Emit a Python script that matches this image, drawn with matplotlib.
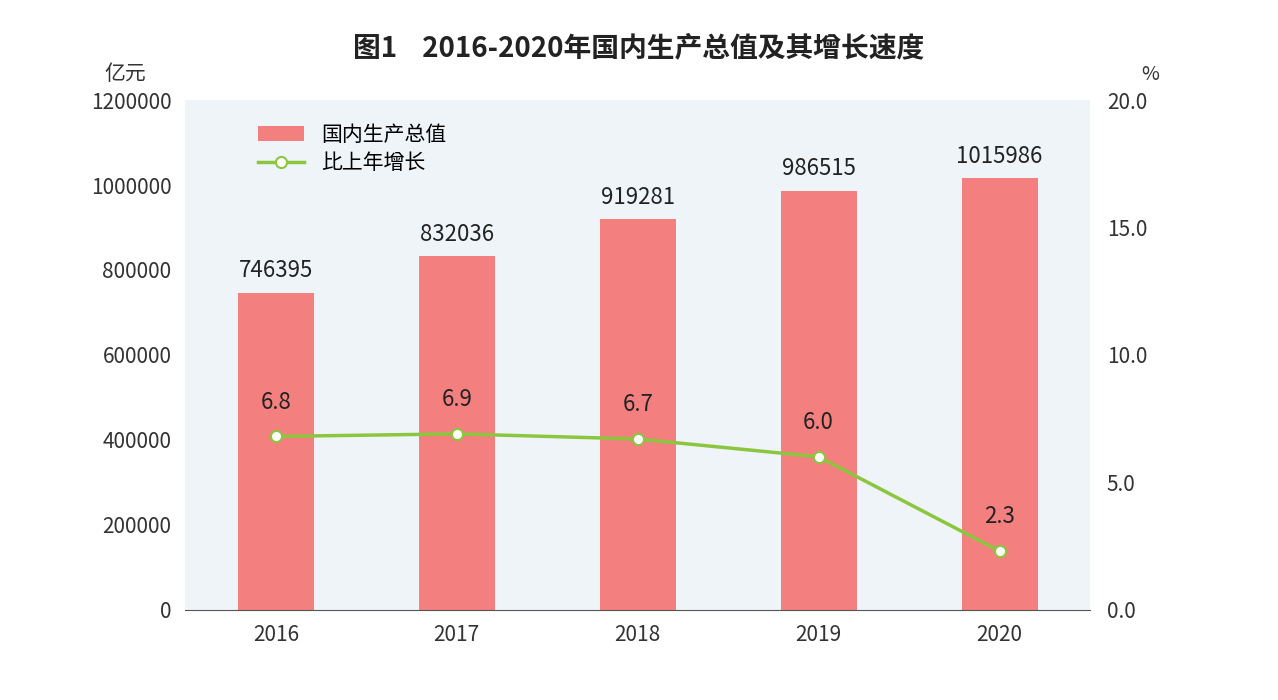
import matplotlib
matplotlib.use("Agg")
import matplotlib.pyplot as plt
from matplotlib import font_manager

years = ["2016", "2017", "2018", "2019", "2020"]
gdp = [746395, 832036, 919281, 986515, 1015986]
growth = [6.8, 6.9, 6.7, 6.0, 2.3]
left_ticks = [0, 200000, 400000, 600000, 800000, 1000000, 1200000]
right_ticks = [0.0, 5.0, 10.0, 15.0, 20.0]

cjk = [f.name for f in font_manager.fontManager.ttflist if "CJK" in f.name]
pref = None
for n in ["Noto Sans CJK SC", "Noto Sans CJK JP", "Noto Sans CJK TC", "Noto Sans CJK KR"]:
    if n in cjk:
        pref = n
        break
if pref is None and cjk:
    pref = cjk[0]
plt.rcParams["font.family"] = [pref] if pref else ["DejaVu Sans"]

fig = plt.figure(figsize=(12.78, 7), dpi=100)
fig.patch.set_facecolor("white")
ax = fig.add_axes([0.145, 0.129, 0.708, 0.728])
ax.set_facecolor("#eef4f8")
x = list(range(len(years)))
bars = ax.bar(x, gdp, width=0.42, color="#f47f7f", zorder=2)
ax.set_ylim(0, 1200000)
ax.set_xlim(-0.5, 4.5)
ax.set_yticks(left_ticks)
ax.set_yticklabels([str(v) for v in left_ticks], fontsize=15, color="#333")
ax.set_xticks(x)
ax.set_xticklabels(years, fontsize=15, color="#333")
ax.tick_params(length=0, pad=10)
for s in ["top", "right", "left"]:
    ax.spines[s].set_visible(False)
ax.spines["bottom"].set_color("#555")
for xi, v in zip(x, gdp):
    ax.text(xi, v + 25000, str(v), ha="center", va="bottom", fontsize=16, color="#222")

ax2 = ax.twinx()
ax2.set_ylim(0, 20)
line, = ax2.plot(x, growth, color="#8cc63f", lw=2.5, marker="o", ms=8,
                 mfc="white", mec="#8cc63f", mew=1.5, zorder=3)
ax2.set_yticks(right_ticks)
ax2.set_yticklabels([f"{v:.1f}" for v in right_ticks], fontsize=15, color="#333")
ax2.tick_params(length=0, pad=12)
for s in ["top", "right", "left", "bottom"]:
    ax2.spines[s].set_visible(False)
for xi, v in zip(x, growth):
    ax2.text(xi, v + 0.9, f"{v:.1f}", ha="center", va="bottom", fontsize=16, color="#222")

ax.legend([bars, line], ["国内生产总值", "比上年增长"], loc="upper left",
          bbox_to_anchor=(0.06, 0.99), frameon=False, fontsize=15,
          handlelength=2.2, labelspacing=0.3)

fig.text(0.5, 0.92, "图1    2016-2020年国内生产总值及其增长速度", ha="center",
         fontsize=20, fontweight="bold", color="#222")
fig.text(0.082, 0.885, "亿元", ha="left", fontsize=15, color="#333")
fig.text(0.9, 0.885, "%", ha="center", fontsize=14, color="#333")
fig.savefig("out.png", dpi=100)
